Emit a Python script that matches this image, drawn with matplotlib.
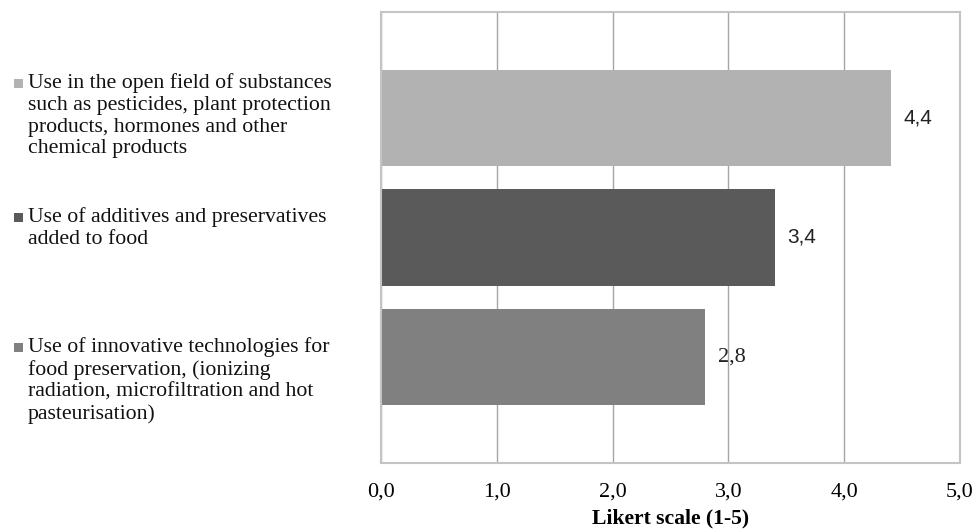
import matplotlib
matplotlib.use('Agg')
import matplotlib.pyplot as plt
from matplotlib.patches import Rectangle

# survey items (top to bottom) with mean Likert score
labels = [
    'Use in the open field of substances\nsuch as pesticides, plant protection\nproducts, hormones and other\nchemical products',
    'Use of additives and preservatives\nadded to food',
    'Use of innovative technologies for\nfood preservation, (ionizing\nradiation, microfiltration and hot\npasteurisation)',
]
scores = [4.4, 3.4, 2.8]
colors = ['#b2b2b2', '#5a5a5a', '#808080']
xticks = [0, 1, 2, 3, 4, 5]
xtick_labels = ['0,0', '1,0', '2,0', '3,0', '4,0', '5,0']

serif = 'Liberation Serif'
sans = 'Liberation Sans'
# data label fonts (last one came out in serif)
label_fonts = [sans, sans, serif]
label_sizes = [15, 15, 16]

fig = plt.figure(figsize=(9.77, 5.30), dpi=100)
ax = fig.add_axes([0.390, 0.1264, 0.5926, 0.851])

# one category, three series stacked top to bottom
ypos = [1, 0, -1]
ax.barh(ypos, scores, height=0.81, color=colors, zorder=2)
for y, v, f, fs in zip(ypos, scores, label_fonts, label_sizes):
    ax.text(v + 0.11, y, ('%.1f' % v).replace('.', ','), va='center', ha='left',
            fontsize=fs, family=f, color='#222222')

ax.set_xlim(0, 5)
ax.set_ylim(-1.887, 1.887)
ax.set_yticks([])
ax.set_xticks(xticks)
ax.set_xticklabels(xtick_labels, fontsize=16, family=serif)
ax.tick_params(axis='x', length=0, pad=14)
ax.grid(axis='x', color='#a6a6a6', linewidth=1.0, zorder=1)
for s in ax.spines.values():
    s.set_color('#c4c4c4')
    s.set_linewidth(1.5)
ax.set_xlabel('Likert scale (1-5)', fontsize=15.6, family=serif, fontweight='bold', labelpad=5)

# legend on the left, drawn by hand
W, H = 977.0, 530.0
entry_top = [73, 207, 337]
for lab, c, top in zip(labels, colors, entry_top):
    fig.text(28 / W, 1 - top / H, lab, fontsize=15.7, family=serif, va='top', ha='left',
             linespacing=1.2, color='#111111')
    fig.patches.append(Rectangle((14 / W, 1 - (top + 15) / H), 9 / W, 9 / H,
                                 transform=fig.transFigure, facecolor=c, edgecolor='none'))

plt.savefig('out.png', dpi=100)
